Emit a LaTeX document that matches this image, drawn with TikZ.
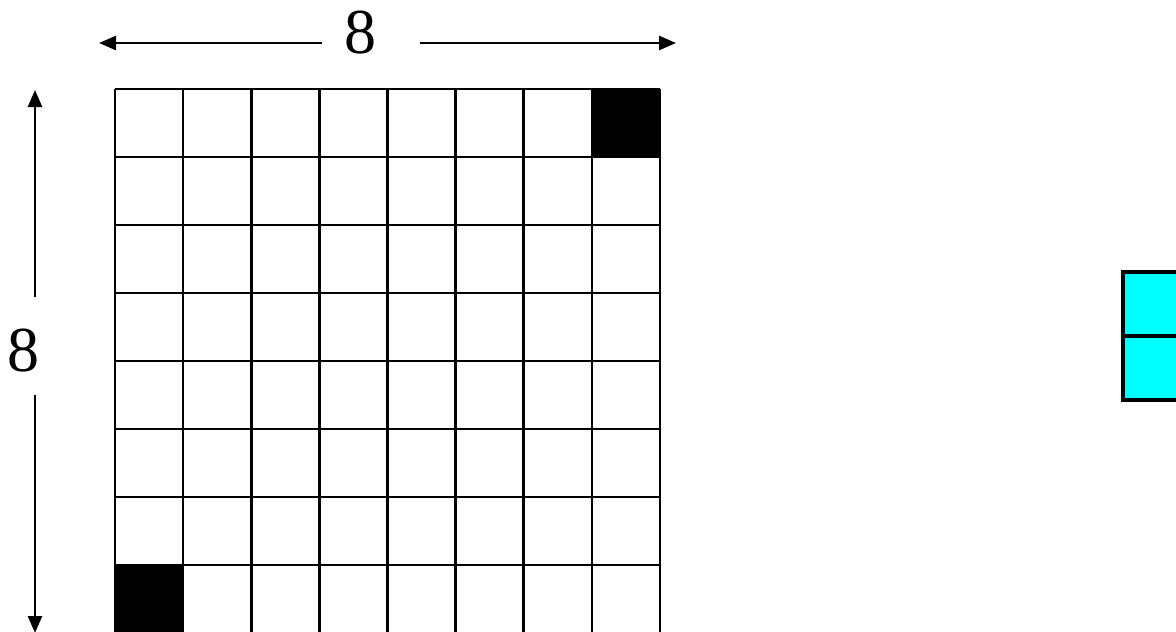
\documentclass[tikz,border=0pt]{standalone}
\usepackage{fontspec}
\setmainfont{Liberation Serif}
\usetikzlibrary{arrows.meta}
\definecolor{dominocyan}{RGB}{0,255,255}
\begin{document}
\begin{tikzpicture}[x=1pt,y=-1pt,
  gridline/.style={line width=2.6pt,draw=black},
  dimarrow/.style={line width=2.6pt,-{Triangle[length=17pt,width=14pt]}},
  dimlabel/.style={font=\fontsize{64}{64}\selectfont,inner sep=0pt},
  blackcell/.style={fill=black},
  domino/.style={fill=dominocyan,draw=black,line width=3.5pt}]
\useasboundingbox (0,0) rectangle (1176,632);
% black cells
\fill[blackcell] (593.1,89) rectangle (660,157.1);
\fill[blackcell] (115,565.1) rectangle (183.1,633);
% grid
\foreach \i in {0,...,8} {
  \draw[gridline] ({115+68.125*\i},89) -- ({115+68.125*\i},633);
  \draw[gridline] (115,{89+68*\i}) -- (660,{89+68*\i});
}
% dimension labels and arrows
\node[dimlabel] (top8) at (360,33) {8};
\node[dimlabel] (left8) at (23,351) {8};
\coordinate (hl) at (322,43);
\coordinate (hr) at (420,43);
\coordinate (hlt) at (99,43);
\coordinate (hrt) at (676,43);
\coordinate (vt) at (35,297);
\coordinate (vb) at (35,395);
\coordinate (vtt) at (35,90);
\coordinate (vbt) at (35,633);
\draw[dimarrow] (hl) -- (hlt);
\draw[dimarrow] (hr) -- (hrt);
\draw[dimarrow] (vt) -- (vtt);
\draw[dimarrow] (vb) -- (vbt);
% domino
\draw[domino] (1123,272) rectangle (1180,400);
\draw[line width=3.5pt] (1123,336) -- (1180,336);
\end{tikzpicture}
\end{document}
